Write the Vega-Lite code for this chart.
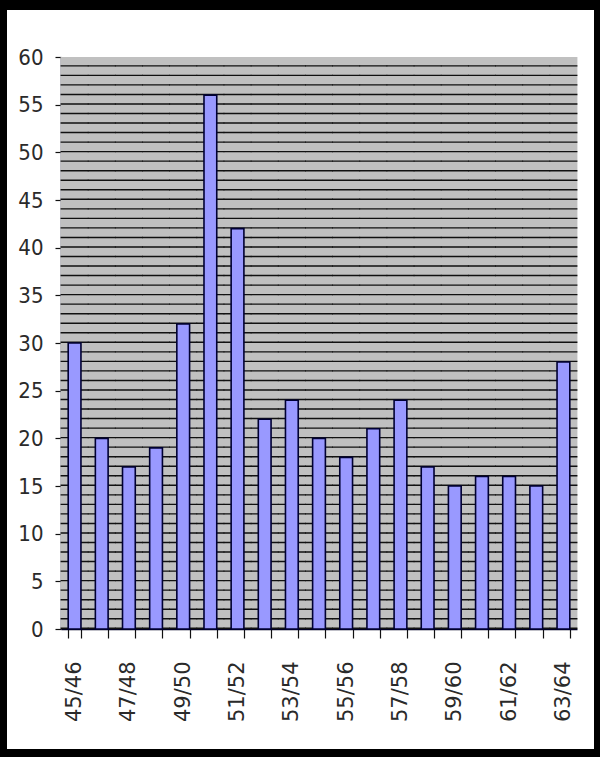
{
  "$schema": "https://vega.github.io/schema/vega-lite/v6.json",
  "width": 587,
  "height": 739,
  "autosize": "none",
  "padding": {"left": 7, "top": 10, "right": 6, "bottom": 8},
  "background": "black",
  "config": {
    "view": {"fill": "white", "stroke": null}
  },
  "data": {
    "values": [
      {"season": "45/46", "value": 30},
      {"season": "46/47", "value": 20},
      {"season": "47/48", "value": 17},
      {"season": "48/49", "value": 19},
      {"season": "49/50", "value": 32},
      {"season": "50/51", "value": 56},
      {"season": "51/52", "value": 42},
      {"season": "52/53", "value": 22},
      {"season": "53/54", "value": 24},
      {"season": "54/55", "value": 20},
      {"season": "55/56", "value": 18},
      {"season": "56/57", "value": 21},
      {"season": "57/58", "value": 24},
      {"season": "58/59", "value": 17},
      {"season": "59/60", "value": 15},
      {"season": "60/61", "value": 16},
      {"season": "61/62", "value": 16},
      {"season": "62/63", "value": 15},
      {"season": "63/64", "value": 28}
    ]
  },
  "encoding": {
    "x": {
      "field": "season",
      "type": "nominal",
      "sort": null,
      "scale": {"range": [54, 570], "paddingInner": 0.53, "paddingOuter": 0.265},
      "axis": {
        "title": null,
        "orient": "bottom",
        "offset": -120,
        "tickBand": "extent",
        "tickSize": 9,
        "tickColor": "#111",
        "tickWidth": 1.2,
        "domainColor": "#000022",
        "domainWidth": 1.5,
        "labelAngle": -90,
        "labelPadding": 23,
        "labelFont": "DejaVu Sans",
        "labelFontSize": 21,
        "labelColor": "#2a2a2a",
        "labelOverlap": false,
        "grid": false,
        "labelExpr": "indexof(['45/46','47/48','49/50','51/52','53/54','55/56','57/58','59/60','61/62','63/64'], datum.label) >= 0 ? datum.label : ''"
      }
    }
  },
  "layer": [
    {
      "mark": {"type": "rule", "color": "#C0C0C0", "strokeWidth": 28},
      "encoding": {
        "y": {
          "datum": 0,
          "type": "quantitative",
          "scale": {"domain": [0, 60], "rangeMin": 619, "rangeMax": 47, "nice": false, "zero": true},
          "axis": {
            "title": null,
            "orient": "left",
            "offset": -54,
            "values": [0, 5, 10, 15, 20, 25, 30, 35, 40, 45, 50, 55, 60],
            "tickSize": 6,
            "tickColor": "#111",
            "tickWidth": 1.2,
            "domainColor": "#000022",
            "domainWidth": 1.5,
            "labelPadding": 12,
            "labelFont": "Liberation Sans Narrow, DejaVu Sans Condensed, Liberation Sans",
            "labelFontSize": 22,
            "labelColor": "#2a2a2a",
            "grid": false
          }
        },
        "y2": {"datum": 60}
      }
    },
    {
      "mark": {"type": "rule", "color": "#111111", "strokeWidth": 28, "strokeDash": [1.4, 8.1333]},
      "encoding": {
        "y": {"datum": 0, "type": "quantitative"},
        "y2": {"datum": 60}
      }
    },
    {
      "mark": {"type": "bar", "fill": "#9999FF", "stroke": "#000033", "strokeWidth": 1.6},
      "encoding": {
        "y": {"field": "value", "type": "quantitative"}
      }
    }
  ]
}
